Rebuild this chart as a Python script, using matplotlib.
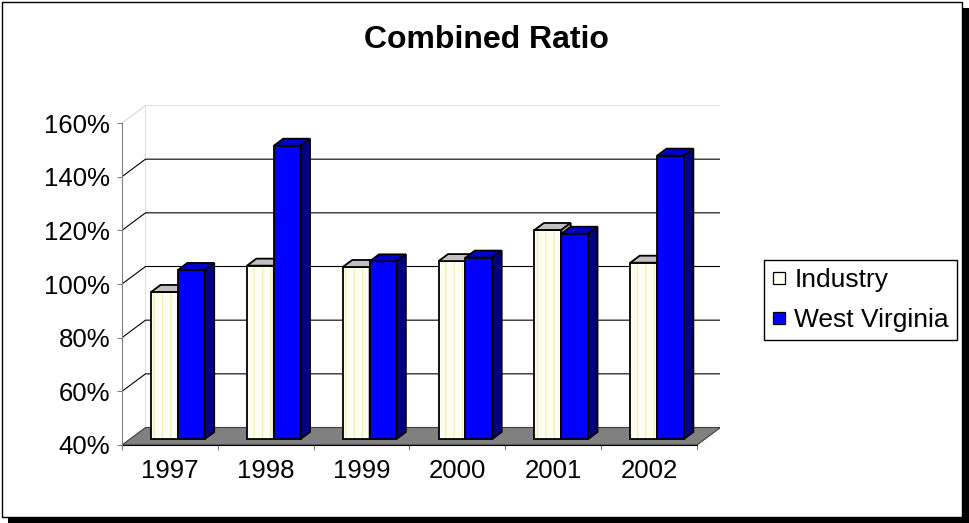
import matplotlib
matplotlib.use('Agg')
import matplotlib.pyplot as plt
from matplotlib.patches import Polygon, Rectangle
from matplotlib.lines import Line2D

# values (percent)
years = ['1997', '1998', '1999', '2000', '2001', '2002']
industry = [94.8, 104.6, 104.1, 106.3, 117.9, 105.7]
west_virginia = [103.0, 149.3, 106.2, 107.6, 116.5, 145.6]
y_ticks = [40, 60, 80, 100, 120, 140, 160]
series_names = ['Industry', 'West Virginia']

W, H = 970, 523
plt.rcParams['font.family'] = ['Liberation Sans', 'DejaVu Sans']

fig = plt.figure(figsize=(W / 100, H / 100), dpi=100)

# pixel scale of the front plane
sx = 95.83   # px per category
sy = 2.6833  # px per percent
DX = 23.5 / sx   # depth of the "3d" box
DY = 17.5 / sy
ox, oy = 0.343 * DX, 0.343 * DY   # front of the bars inside the box
bdx, bdy = 0.4 * DX, 0.4 * DY     # bar depth
BW = 0.28
n = len(years)

ax = fig.add_axes([122 / W, (H - 445) / H, 598.5 / W, 340 / H])
ax.set_xlim(0, n + DX)
ax.set_ylim(40, 40 + 340 / sy)
ax.patch.set_visible(False)

# walls and floor
ax.add_patch(Polygon([(0, 40), (DX, 40 + DY), (DX, 160 + DY), (0, 160)],
                     closed=True, fc='white', ec='#d8d8d8', lw=0.6, zorder=0))
for v in y_ticks[1:]:
    col = 'black' if v < 160 else '#e0e0e0'
    ax.plot([0, DX, n + DX], [v, v + DY, v + DY], color=col, lw=0.8, zorder=0.5)
ax.add_patch(Polygon([(0, 40), (n, 40), (n + DX, 40 + DY), (DX, 40 + DY)],
                     closed=True, fc='#808080', ec='#404040', lw=0.8, zorder=1))

# front faces
ind_x = [i + 0.5 + ox - BW for i in range(n)]
wv_x = [i + 0.5 + ox for i in range(n)]
ind_h = [v - 40 for v in industry]
wv_h = [v - 40 for v in west_virginia]
ax.bar(ind_x, ind_h, width=BW, bottom=40 + oy, align='edge',
       color='#FFFFF4', edgecolor='#F4EFB0', hatch='||', linewidth=0, zorder=3)
ax.bar(ind_x, ind_h, width=BW, bottom=40 + oy, align='edge',
       fill=False, edgecolor='black', linewidth=1.3, zorder=3)
ax.bar(wv_x, wv_h, width=BW, bottom=40 + oy, align='edge',
       color='#0000FF', edgecolor='black', linewidth=1.3, zorder=4)


def box_faces(x0, top, top_c, side_c, z):
    x1 = x0 + BW
    b = 40 + oy
    t = top + oy
    ax.add_patch(Polygon([(x0, t), (x1, t), (x1 + bdx, t + bdy), (x0 + bdx, t + bdy)],
                         closed=True, fc=top_c, ec='black', lw=1.3, zorder=z))
    ax.add_patch(Polygon([(x1, b), (x1, t), (x1 + bdx, t + bdy), (x1 + bdx, b + bdy)],
                         closed=True, fc=side_c, ec='black', lw=1.3, zorder=z))


for i in range(n):
    box_faces(ind_x[i], industry[i], '#C0C0C0', '#B8B8A0', 3)
    box_faces(wv_x[i], west_virginia[i], '#0000CC', '#000080', 4)

# axes
for s in ['top', 'right']:
    ax.spines[s].set_visible(False)
ax.spines['left'].set_bounds(40, 160)
ax.spines['left'].set_color('#808080')
ax.spines['bottom'].set_bounds(0, n)
ax.spines['bottom'].set_color('black')
ax.spines['bottom'].set_zorder(2)

ax.set_yticks(y_ticks)
ax.set_yticklabels([f'{v}%' for v in y_ticks])
ax.tick_params(axis='y', direction='out', length=3.6, color='#808080',
               pad=5, labelsize=18.5)
ax.set_xticks(range(n + 1))
ax.set_xticklabels([])
ax.set_xticks([i + 0.5 for i in range(n)], minor=True)
ax.set_xticklabels(years, minor=True)
ax.tick_params(axis='x', which='major', direction='out', length=3.6, color='#808080')
ax.tick_params(axis='x', which='minor', length=0, pad=10, labelsize=18.5)

# legend
handles = [Line2D([], [], ls='none', marker='s', markersize=8, mfc='#FFFFF4', mec='black', mew=0.9),
           Line2D([], [], ls='none', marker='s', markersize=8, mfc='#0000FF', mec='black', mew=0.9)]
leg = fig.legend(handles, series_names, loc='center left',
                 bbox_to_anchor=(764 / W, 1 - 300 / H), frameon=True, fancybox=False,
                 edgecolor='black', framealpha=1, fontsize=19,
                 handlelength=0.5, handletextpad=0.35,
                 labelspacing=0.6, borderpad=0.3, borderaxespad=0)
leg.get_frame().set_linewidth(1.0)

# title
fig.text(486 / W, 1 - 40 / H, 'Combined Ratio', ha='center', va='center',
         fontsize=23, fontweight='bold')

# outer frame with shadow
fig.add_artist(Rectangle((2 / W, 1 - 517 / H), 960 / W, 515 / H, transform=fig.transFigure,
                         fill=False, ec='black', lw=1))
fig.add_artist(Rectangle((962 / W, 0), 7 / W, 515 / H, transform=fig.transFigure,
                         fc='black', ec='none'))
fig.add_artist(Rectangle((8 / W, 0), 961 / W, 6 / H, transform=fig.transFigure,
                         fc='black', ec='none'))

fig.savefig('out.png', dpi=100)
